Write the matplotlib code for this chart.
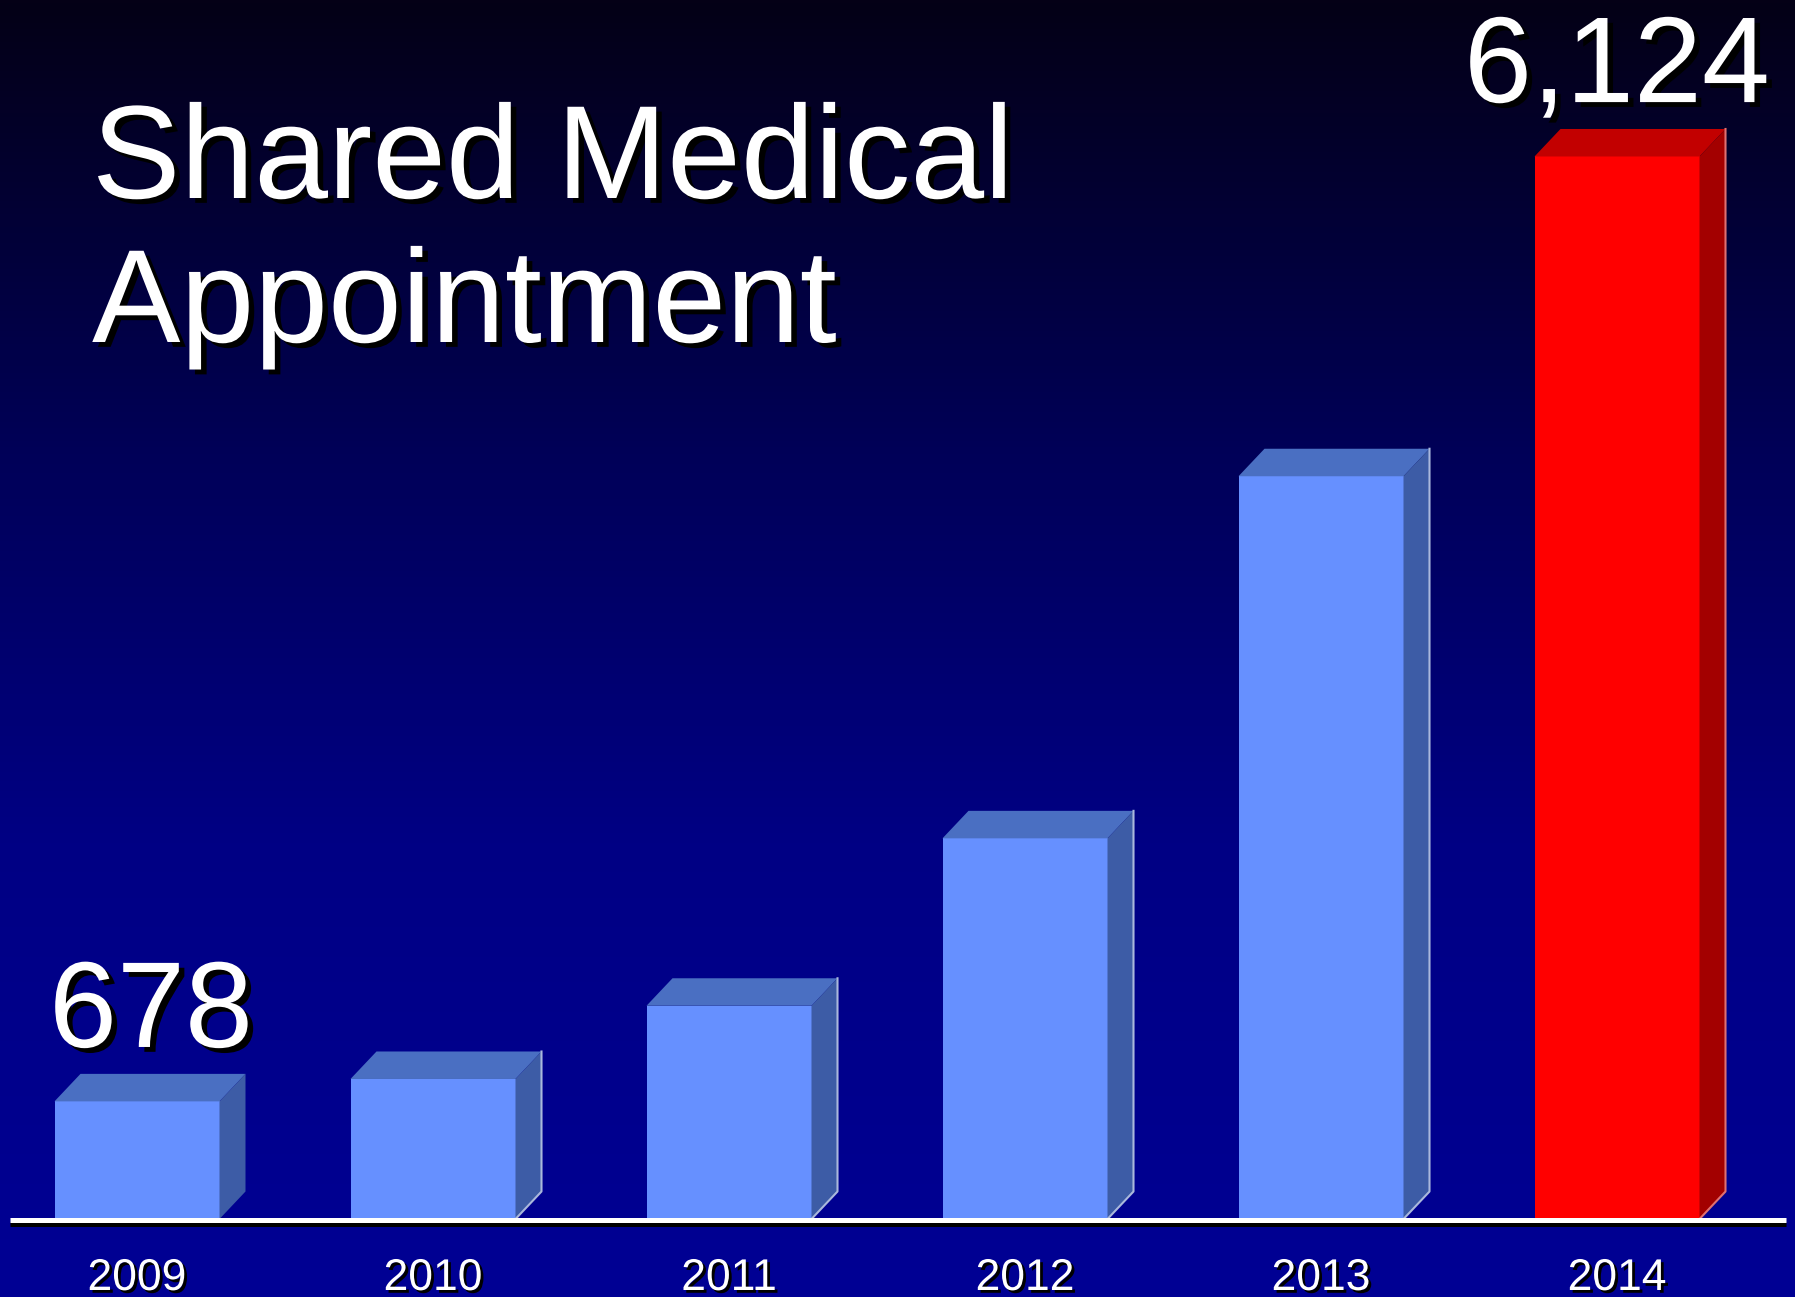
"""
Shared Medical Appointment - yearly visits, 3D-style bar chart on a dark blue slide
"""
import numpy as np
import matplotlib
matplotlib.use('Agg')
import matplotlib.pyplot as plt
import matplotlib.patheffects as pe
from matplotlib.patches import Polygon

years = ['2009', '2010', '2011', '2012', '2013', '2014']
visits = [678, 807, 1229, 2194, 4281, 6124]
labels_shown = {0: '678', 5: '6,124'}
title_lines = ['Shared Medical', 'Appointment']

plt.rcParams['font.family'] = ['Liberation Sans', 'DejaVu Sans']

W, H = 1795, 1297
fig = plt.figure(figsize=(W / 100, H / 100), dpi=100)
ax = fig.add_axes([0, 0, 1, 1])

# pixel layout of the slide: bar pitch 296 px, zero line at y=1219 px, 0.1735 px per visit
pitch, x0_px, y0_px, ppv = 296.0, 137.0, 1219.0, 0.1735
xlim = (-x0_px / pitch, (W - x0_px) / pitch)
ylim = (-(H - y0_px) / ppv, y0_px / ppv)
ax.set_xlim(*xlim)
ax.set_ylim(*ylim)
ax.axis('off')

# background gradient (near black at top -> blue at bottom)
stops = np.array([0.0, 0.35, 0.65, 1.0])
cols = np.array([[4, 0, 22], [0, 0, 88], [0, 0, 132], [0, 0, 148]]) / 255.0
t = np.linspace(0, 1, 400)
grad = np.stack([np.interp(t, stops, cols[:, k]) for k in range(3)], axis=1)
ax.imshow(grad[:, None, :], extent=[*xlim, *ylim], aspect='auto', zorder=0, origin='upper')
ax.set_xlim(*xlim)
ax.set_ylim(*ylim)

x = np.arange(len(years))
bw = 165 / pitch
DX = 26 / pitch
DY = 27.5 / ppv

blue = dict(front='#6690ff', top='#4a6fc2', side='#3d5ca6', edge='#aab8dc')
red = dict(front='#ff0000', top='#c20000', side='#a30000', edge='#e07070')
schemes = [blue] * 5 + [red]

ax.bar(x, visits, width=bw, color=[s['front'] for s in schemes], zorder=3)
for xi, v, s in zip(x, visits, schemes):
    fl, fr = xi - bw / 2, xi + bw / 2
    ax.add_patch(Polygon([(fl, v), (fl + DX, v + DY), (fr + DX, v + DY), (fr, v)],
                         closed=True, fc=s['top'], ec='none', zorder=3))
    ax.add_patch(Polygon([(fr, 0), (fr, v), (fr + DX, v + DY), (fr + DX, DY)],
                         closed=True, fc=s['side'], ec='none', zorder=3))
    if xi > 0:
        ax.plot([fr, fr + DX, fr + DX], [0, DY, v + DY], color=s['edge'], lw=1.5, zorder=3)

# floor line with shadow
ax.plot([-127 / pitch, (1786 - x0_px) / pitch], [-8, -8], color='white', lw=3.6,
        solid_capstyle='butt', zorder=4,
        path_effects=[pe.SimpleLineShadow(offset=(0, -2.5), shadow_color='black', alpha=1),
                      pe.Normal()])

shadow_big = [pe.SimplePatchShadow(offset=(4, -3.5), shadow_rgbFace='black', alpha=1), pe.Normal()]
shadow_small = [pe.SimplePatchShadow(offset=(2, -2), shadow_rgbFace='black', alpha=1), pe.Normal()]

for xi, yr in zip(x, years):
    ax.text(xi, -(1290 - y0_px) / ppv, yr, ha='center', va='baseline', color='white',
            fontsize=32, zorder=5, path_effects=shadow_small)

label_dx_px = {0: 14, 5: 0}
for i, txt in labels_shown.items():
    ax.text(x[i] + label_dx_px[i] / pitch, visits[i] + DY + 155, txt, ha='center',
            va='baseline', color='white', fontsize=88, zorder=5, path_effects=shadow_big)

fig.text(92 / W, 1 - 198 / H, title_lines[0], ha='left', va='baseline', color='white',
         fontsize=95.5, path_effects=shadow_big)
fig.text(92 / W, 1 - 342 / H, title_lines[1], ha='left', va='baseline', color='white',
         fontsize=95.5, path_effects=shadow_big)

fig.savefig('out.png', dpi=100, facecolor='#000080')
